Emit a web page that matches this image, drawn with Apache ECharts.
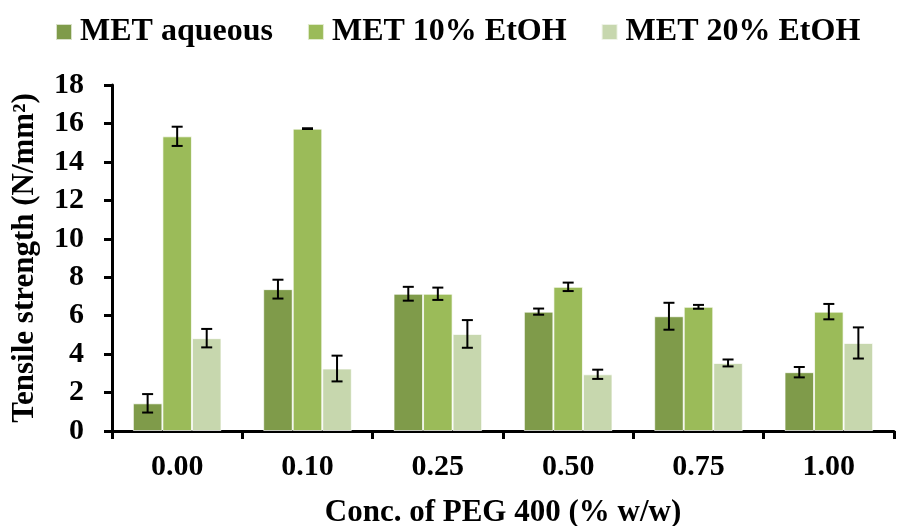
<!DOCTYPE html>
<html style="height: 100%">
  <head>
    <meta charset="UTF-8">
  </head>
  <body style="height: 100%; margin: 0; background: #fff">
    <div id="container" style="width: 897px; height: 526px"></div>
    <script src="https://cdn.jsdelivr.net/npm/echarts@6/dist/echarts.min.js"></script>
    <script>
    // data
    var categories = ['0.00', '0.10', '0.25', '0.50', '0.75', '1.00'];
    var seriesNames = ['MET aqueous', 'MET 10% EtOH', 'MET 20% EtOH'];
    var aqueous = [1.44, 7.38, 7.14, 6.21, 5.97, 3.06];
    var etoh10 = [15.33, 15.73, 7.14, 7.50, 6.46, 6.21];
    var etoh20 = [4.83, 3.25, 5.05, 2.95, 3.54, 4.58];
    var aqueousErr = [0.48, 0.49, 0.36, 0.16, 0.70, 0.27];
    var etoh10Err = [0.50, 0.02, 0.32, 0.22, 0.10, 0.40];
    var etoh20Err = [0.48, 0.67, 0.72, 0.24, 0.18, 0.81];
    var colors = ['#7f9b4a', '#9bbb59', '#c7d7ae'];

    var values = [aqueous, etoh10, etoh20];
    var errors = [aqueousErr, etoh10Err, etoh20Err];
    var gapPct = 32;
    var font = 'Liberation Serif';

    var chart = echarts.init(document.getElementById('container'), null, { renderer: 'canvas' });

    var barSeries = seriesNames.map(function (name, s) {
      return {
        name: name,
        type: 'bar',
        data: values[s],
        barGap: '0%',
        barCategoryGap: gapPct + '%',
        itemStyle: { color: colors[s], borderColor: 'rgba(255,255,255,0.7)', borderWidth: 1 }
      };
    });

    var errData = [];
    values.forEach(function (vals, s) {
      vals.forEach(function (v, i) {
        errData.push([i, v, errors[s][i], s]);
      });
    });

    var errSeries = {
      type: 'custom',
      z: 5,
      silent: true,
      data: errData,
      encode: { x: 0, y: 1 },
      renderItem: function (params, api) {
        var i = api.value(0), v = api.value(1), e = api.value(2), s = api.value(3);
        var band = api.size([1, 0])[0];
        var barW = band * (1 - gapPct / 100) / 3;
        var c = api.coord([i, v]);
        var x = c[0] + (s - 1) * barW;
        var yTop = api.coord([i, v + e])[1];
        var yBot = api.coord([i, v - e])[1];
        var cap = 5.5;
        var st = { stroke: '#000', lineWidth: 2 };
        return {
          type: 'group',
          children: [
            { type: 'line', shape: { x1: x, y1: yTop, x2: x, y2: yBot }, style: st },
            { type: 'line', shape: { x1: x - cap, y1: yTop, x2: x + cap, y2: yTop }, style: st },
            { type: 'line', shape: { x1: x - cap, y1: yBot, x2: x + cap, y2: yBot }, style: st }
          ]
        };
      }
    };

    var option = {
      animation: false,
      textStyle: { fontFamily: font },
      legend: {
        data: seriesNames,
        left: 50,
        top: 11,
        itemWidth: 16,
        itemHeight: 16,
        itemGap: 34,
        icon: 'rect',
        textStyle: { fontFamily: font, fontWeight: 'bold', fontSize: 32, color: '#000', padding: [0, 0, 0, 3] }
      },
      grid: { left: 112, right: 3, top: 85, bottom: 95, outerBoundsMode: 'none', containLabel: false },
      xAxis: {
        type: 'category',
        data: categories,
        name: 'Conc. of PEG 400 (% w/w)',
        nameLocation: 'middle',
        nameGap: 66,
        nameTextStyle: { fontFamily: font, fontWeight: 'bold', fontSize: 31, color: '#000' },
        axisLine: { lineStyle: { color: '#000', width: 3 } },
        axisTick: { show: true, length: 8, lineStyle: { color: '#000', width: 3 } },
        axisLabel: { margin: 21, fontFamily: font, fontWeight: 'bold', fontSize: 30, color: '#000' }
      },
      yAxis: {
        type: 'value',
        min: 0,
        max: 18,
        interval: 2,
        name: 'Tensile strength (N/mm²)',
        nameLocation: 'middle',
        nameGap: 72,
        nameTextStyle: { fontFamily: font, fontWeight: 'bold', fontSize: 31, color: '#000' },
        splitLine: { show: false },
        axisLine: { show: true, lineStyle: { color: '#000', width: 3 } },
        axisTick: { show: true, length: 8, lineStyle: { color: '#000', width: 3 } },
        axisLabel: { margin: 28, fontFamily: font, fontWeight: 'bold', fontSize: 30, color: '#000' }
      },
      series: barSeries.concat([errSeries])
    };

    chart.setOption(option);
    window.addEventListener('resize', chart.resize);
    </script>
  </body>
</html>
